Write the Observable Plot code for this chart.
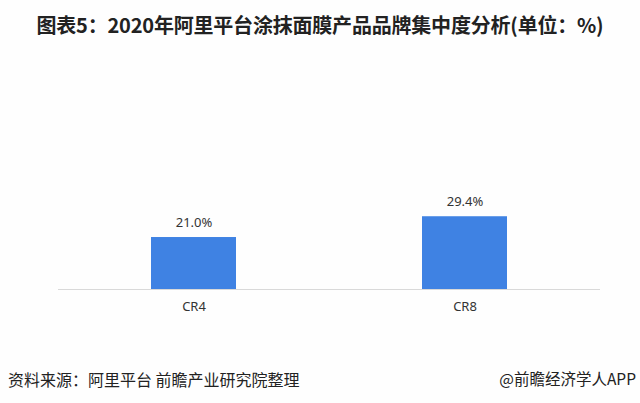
<!DOCTYPE html>
<html>
<head>
<meta charset="utf-8">
<script src="https://cdn.jsdelivr.net/npm/d3@7"></script>
<script src="https://cdn.jsdelivr.net/npm/@observablehq/plot@0.6"></script>
<style>
  html, body { margin: 0; padding: 0; background: #fefefe; }
  #wrap { position: relative; width: 640px; height: 403px; overflow: hidden; background: #fefefe;
          font-family: "Noto Sans CJK SC", "Noto Sans", sans-serif; }
  #title { position: absolute; top: 0; left: 0; width: 640px; height: 50px; line-height: 50px;
           text-align: center; font-size: 20px; font-weight: bold; color: #222; letter-spacing: -0.2px; }
  #chart { position: absolute; top: 50px; left: 0; }
  #source { position: absolute; left: 8px; top: 367px; font-size: 16px; color: #222; }
  #brand { position: absolute; right: 4px; top: 367px; font-size: 15.5px; color: #222; }
</style>
</head>
<body>
<div id="wrap">
  <div id="title">图表5：2020年阿里平台涂抹面膜产品品牌集中度分析(单位：%)</div>
  <div id="chart"></div>
  <div id="source">资料来源：阿里平台 前瞻产业研究院整理</div>
  <div id="brand">@前瞻经济学人APP</div>
</div>
<script>
const categories = ["CR4", "CR8"];
const values = [21.0, 29.4];
const labels = ["21.0%", "29.4%"];

const data = categories.map((c, i) => ({cat: c, value: values[i], label: labels[i]}));

const chart = Plot.plot({
  width: 640,
  height: 290,
  marginLeft: 58,
  marginRight: 40,
  marginTop: 140,
  marginBottom: 51,
  style: {background: "transparent", fontFamily: "'Noto Sans', 'Noto Sans CJK SC', sans-serif", fontSize: "13px", color: "#333"},
  x: {domain: categories, paddingInner: 0.686, paddingOuter: 0.343, label: null, tickSize: 0, tickPadding: 12},
  y: {domain: [0, 40], axis: null},
  marks: [
    Plot.barY(data, {x: "cat", y: "value", fill: "#3f82e3"}),
    Plot.ruleY([0], {stroke: "#d9d9d9", strokeWidth: 1}),
    Plot.text(data, {x: "cat", y: "value", text: "label", dy: -15, fontSize: 13, fill: "#333"})
  ]
});
document.getElementById("chart").appendChild(chart);
</script>
</body>
</html>
